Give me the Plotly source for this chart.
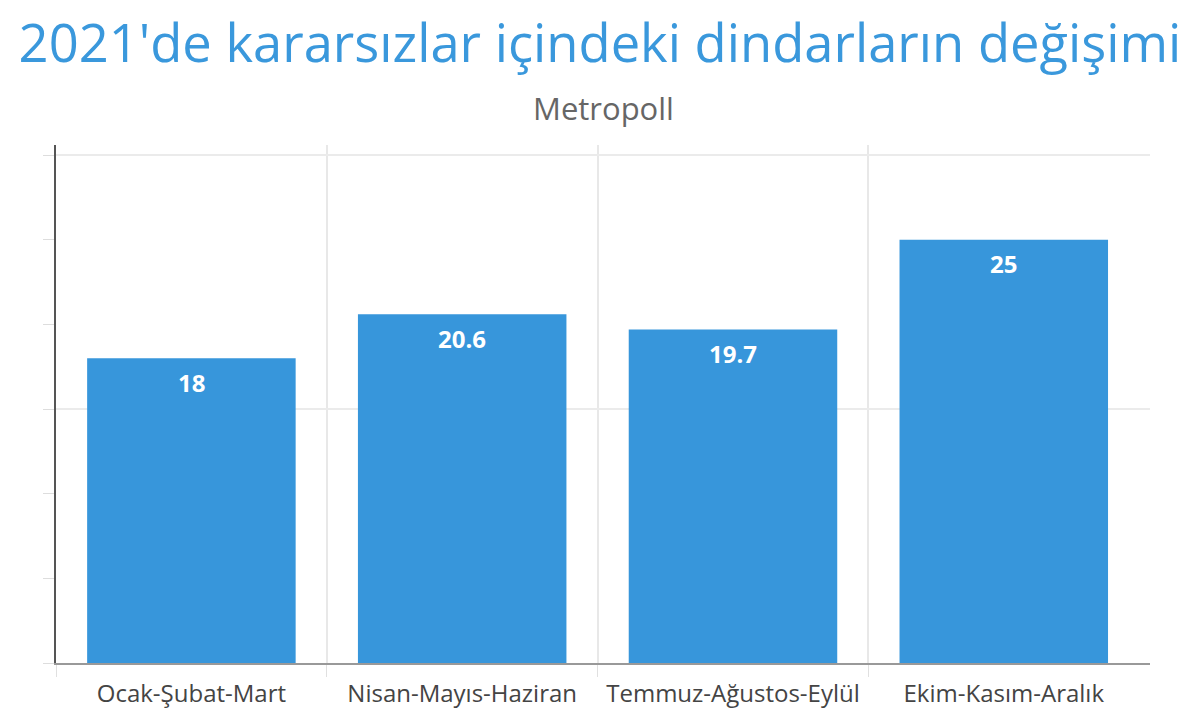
import plotly.graph_objects as go

categories = ["Ocak-Şubat-Mart", "Nisan-Mayıs-Haziran", "Temmuz-Ağustos-Eylül", "Ekim-Kasım-Aralık"]
values = [18, 20.6, 19.7, 25]
value_labels = ["18", "20.6", "19.7", "25"]
title_text = "2021'de kararsızlar içindeki dindarların değişimi"
subtitle_text = "Metropoll"

positions = list(range(len(categories)))
boundaries = [p - 0.5 for p in positions]

fig = go.Figure()
fig.add_trace(go.Bar(
    x=positions, y=values, width=0.77,
    marker=dict(color="#3796db", line=dict(width=0)),
    hoverinfo="skip", xaxis="x", yaxis="y",
))
# invisible trace to carry the label axis
fig.add_trace(go.Scatter(x=positions, y=values, mode="markers",
                         marker=dict(opacity=0), xaxis="x2", yaxis="y",
                         hoverinfo="skip", showlegend=False))

for p, v, t in zip(positions, values, value_labels):
    fig.add_annotation(x=p, y=v, xref="x", yref="y", text=f"<b>{t}</b>",
                       showarrow=False, yshift=-24,
                       font=dict(family="Open Sans", size=24, color="white"))

plot_h = 721 - 145 - 58
fig.add_annotation(text=subtitle_text, x=0.5, xref="paper",
                   y=1 + (145 - 108) / plot_h, yref="paper", yanchor="middle",
                   showarrow=False,
                   font=dict(family="Open Sans", size=31, color="#666"))

fig.update_layout(
    width=1200, height=721,
    margin=dict(l=56, r=50, t=145, b=58),
    paper_bgcolor="white", plot_bgcolor="white",
    showlegend=False,
    font=dict(family="Open Sans", color="#444"),
    title=dict(text=title_text, x=0.5, xanchor="center", y=0.94, yanchor="middle",
               font=dict(family="Open Sans", size=52.5, color="#3a98dc")),
    xaxis=dict(range=[-0.5, 3.54], tickvals=boundaries, showticklabels=False,
               showgrid=True, gridcolor="#e8e8e8", gridwidth=1.5,
               ticks="outside", ticklen=12, tickcolor="#e0e0e0",
               showline=True, linecolor="#999", linewidth=2, zeroline=False,
               automargin=False),
    xaxis2=dict(range=[-0.5, 3.54], overlaying="x", side="bottom", matches="x",
                tickvals=positions, ticktext=categories, showgrid=False,
                ticks="outside", ticklen=9, tickcolor="rgba(0,0,0,0)",
                tickfont=dict(family="Open Sans", size=24, color="#444"),
                showline=False, zeroline=False, automargin=False),
    yaxis=dict(range=[0, 30.6], dtick=15, showticklabels=False,
               showgrid=True, gridcolor="#ebebeb", gridwidth=2,
               ticks="outside", ticklen=11, tickcolor="#ddd",
               showline=True, linecolor="#555", linewidth=2, zeroline=False,
               automargin=False,
               minor=dict(dtick=5, ticks="outside", ticklen=11, tickcolor="#ddd",
                          showgrid=False)),
)

fig.write_html("out.html")
